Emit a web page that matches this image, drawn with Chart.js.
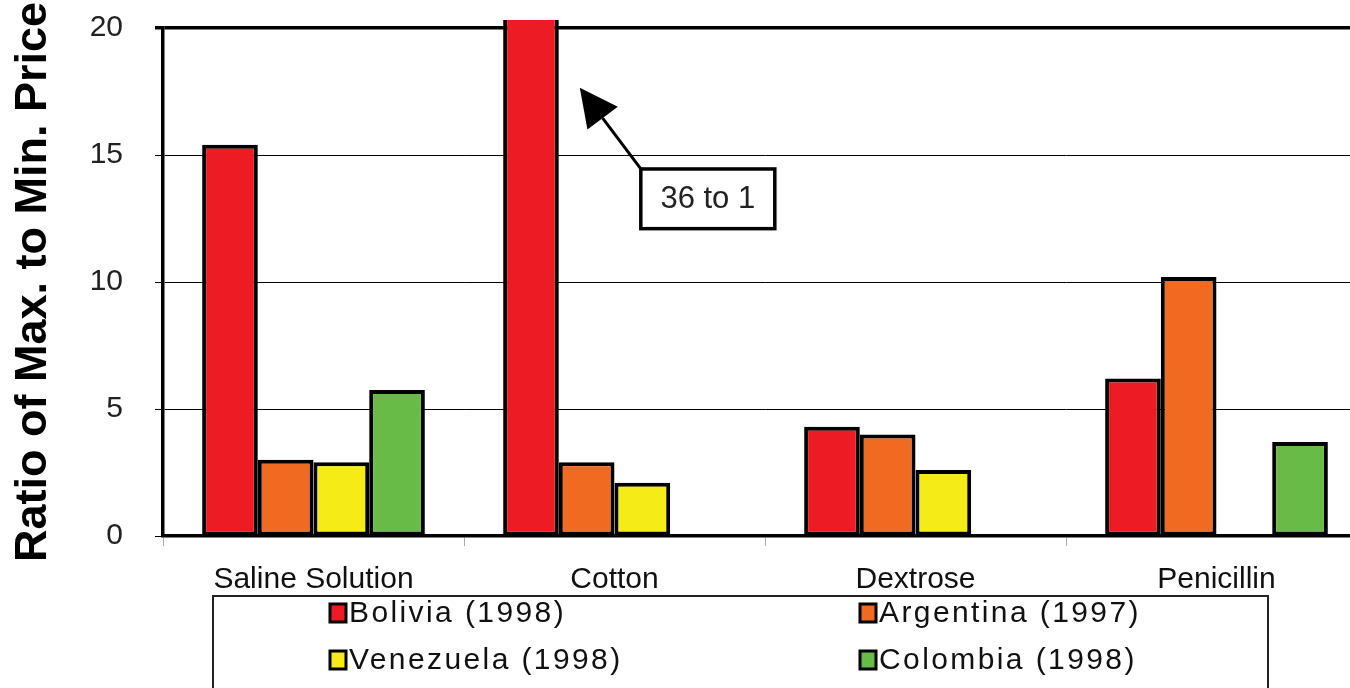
<!DOCTYPE html>
<html>
<head>
<meta charset="utf-8">
<script src="https://cdn.jsdelivr.net/npm/chart.js@4.4.1/dist/chart.umd.min.js"></script>
<style>
html,body{margin:0;padding:0;background:#fff;overflow:hidden;width:1350px;height:688px;}
#c{position:absolute;left:0;top:0;}
</style>
</head>
<body>
<canvas id="c" width="1370" height="688"></canvas>
<script>
const categories = ['Saline Solution', 'Cotton', 'Dextrose', 'Penicillin'];
const seriesNames = ['Bolivia (1998)', 'Argentina (1997)', 'Venezuela (1998)', 'Colombia (1998)'];
const bolivia   = [15.4, 36, 4.3, 6.2];
const argentina = [3.0, 2.9, 4.0, 10.2];
const venezuela = [2.9, 2.1, 2.6, null];
const colombia  = [5.75, null, null, 3.7];
const yTicks = [0, 5, 10, 15, 20];
const calloutText = '36 to 1';
const yTitle = 'Ratio of Max. to Min. Price';

const colors = ['#ED1C24', '#F06A22', '#F5EC17', '#67BB46'];
const FONT = "'Liberation Sans', Arial, sans-serif";

const legendPlugin = {
  id: 'boxLegend',
  afterDraw(chart) {
    const ctx = chart.ctx;
    ctx.save();
    ctx.strokeStyle = '#222';
    ctx.lineWidth = 2;
    ctx.strokeRect(213, 596, 1055, 140);
    const pos = [[330, 613], [860, 613], [330, 660], [860, 660]];
    chart.data.datasets.forEach((ds, i) => {
      const [x, y] = pos[i];
      ctx.fillStyle = ds.backgroundColor;
      ctx.fillRect(x, y - 9, 16, 18);
      ctx.strokeStyle = '#000';
      ctx.lineWidth = 3;
      ctx.strokeRect(x, y - 9, 16, 18);
      ctx.fillStyle = '#111';
      ctx.font = '30px ' + FONT;
      ctx.textBaseline = 'middle';
      ctx.textAlign = 'left';
      try { ctx.letterSpacing = '2.4px'; } catch (e) {}
      ctx.fillText(ds.label, x + 19, y + 1);
      try { ctx.letterSpacing = '0px'; } catch (e) {}
    });
    ctx.restore();
  }
};

const calloutPlugin = {
  id: 'callout',
  afterDatasetsDraw(chart) {
    const ctx = chart.ctx;
    const y = chart.scales.y;
    const bar = chart.getDatasetMeta(0).data[1];
    const right = bar.x + bar.width / 2;
    const tipX = right + 21, tipY = y.getPixelForValue(17.65);
    const bx = right + 82, by = y.getPixelForValue(14.45);
    const bw = 134, bh = y.getPixelForValue(12.1) - by;
    ctx.save();
    const ang = Math.atan2(by - tipY, bx - tipX);
    const headLen = 38, headHalf = 19;
    const baseX = tipX + Math.cos(ang) * headLen, baseY = tipY + Math.sin(ang) * headLen;
    ctx.strokeStyle = '#000';
    ctx.lineWidth = 3;
    ctx.beginPath();
    ctx.moveTo(baseX, baseY);
    ctx.lineTo(bx, by);
    ctx.stroke();
    ctx.fillStyle = '#000';
    ctx.beginPath();
    ctx.moveTo(tipX, tipY);
    ctx.lineTo(baseX + Math.cos(ang + Math.PI / 2) * headHalf, baseY + Math.sin(ang + Math.PI / 2) * headHalf);
    ctx.lineTo(baseX - Math.cos(ang + Math.PI / 2) * headHalf, baseY - Math.sin(ang + Math.PI / 2) * headHalf);
    ctx.closePath();
    ctx.fill();
    ctx.fillStyle = '#fff';
    ctx.fillRect(bx, by, bw, bh);
    ctx.lineWidth = 3.5;
    ctx.strokeRect(bx, by, bw, bh);
    ctx.fillStyle = '#222';
    ctx.font = '31px ' + FONT;
    ctx.textAlign = 'center';
    ctx.textBaseline = 'middle';
    ctx.fillText(calloutText, bx + bw / 2, by + bh / 2 + 1);
    ctx.restore();
  }
};

const seriesData = [bolivia, argentina, venezuela, colombia];
new Chart(document.getElementById('c'), {
  type: 'bar',
  data: {
    labels: categories,
    datasets: seriesData.map((d, i) => ({
      label: seriesNames[i],
      data: d,
      backgroundColor: colors[i],
      borderColor: '#000',
      borderWidth: 4,
      borderSkipped: false,
      categoryPercentage: 0.74,
      barPercentage: 1.0,
      clip: {left: 10, top: 8, right: 10, bottom: 10}
    }))
  },
  options: {
    responsive: false,
    animation: false,
    events: [],
    layout: {padding: {left: 0, top: 28, right: 3, bottom: 92}},
    plugins: {legend: {display: false}, tooltip: {enabled: false}},
    scales: {
      x: {
        grid: {display: true, drawOnChartArea: false, drawTicks: true, tickLength: 10, color: '#aaa', offset: true},
        border: {display: true, color: '#000', width: 3.5},
        ticks: {color: '#111', font: {family: FONT, size: 30}, padding: 16, maxRotation: 0, autoSkip: false},
        afterFit(s) { s.height = 60; }
      },
      y: {
        min: 0, max: 20,
        afterBuildTicks(s) { s.ticks = yTicks.map(v => ({value: v})); },
        grid: {
          color: '#000',
          lineWidth: (c) => (c.tick && c.tick.value === 20 ? 3.5 : 1),
          tickLength: 8
        },
        border: {display: true, color: '#000', width: 3.5},
        ticks: {color: '#222', font: {family: FONT, size: 30}, padding: 32},
        title: {display: true, text: yTitle, color: '#000', font: {family: FONT, size: 45, weight: 'bold'}, padding: {top: 7, bottom: 0}},
        afterFit(s) { s.width = 163; s.paddingTop = 0; s.paddingBottom = 0; }
      }
    }
  },
  plugins: [legendPlugin, calloutPlugin]
});
</script>
</body>
</html>
